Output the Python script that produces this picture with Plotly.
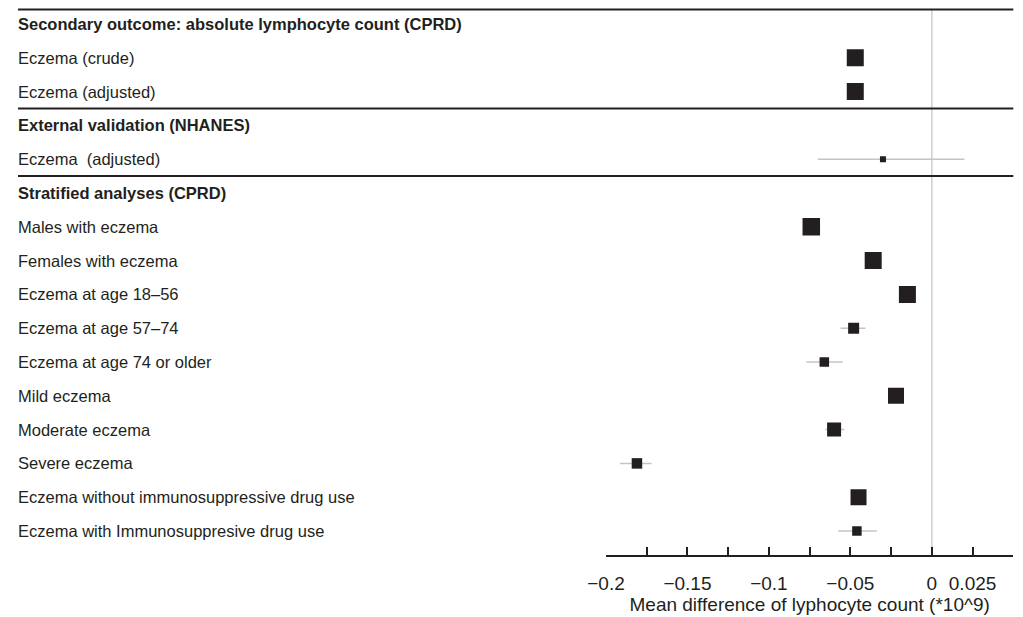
import plotly.graph_objects as go

# ---- data ----
row_labels = [
    "Secondary outcome: absolute lymphocyte count (CPRD)",
    "Eczema (crude)",
    "Eczema (adjusted)",
    "External validation (NHANES)",
    "Eczema  (adjusted)",
    "Stratified analyses (CPRD)",
    "Males with eczema",
    "Females with eczema",
    "Eczema at age 18\u201356",
    "Eczema at age 57\u201374",
    "Eczema at age 74 or older",
    "Mild eczema",
    "Moderate eczema",
    "Severe eczema",
    "Eczema without immunosuppressive drug use",
    "Eczema with Immunosuppresive drug use",
]
is_heading = [True, False, False, True, False, True] + [False] * 10

estimate = [None, -0.047, -0.047, None, -0.030, None,
            -0.074, -0.036, -0.015, -0.048, -0.066, -0.022, -0.060, -0.181, -0.045, -0.046]
lower = [None, -0.050, -0.050, None, -0.070, None,
         -0.077, -0.039, -0.018, -0.056, -0.077, -0.025, -0.0655, -0.1915, -0.048, -0.0574]
upper = [None, -0.044, -0.044, None, 0.020, None,
         -0.071, -0.033, -0.012, -0.0408, -0.0547, -0.019, -0.0537, -0.172, -0.042, -0.0338]

tick_vals = [-0.2, -0.175, -0.15, -0.125, -0.1, -0.075, -0.05, -0.025, 0, 0.025, 0.05]
tick_text = ["\u22120.2", "", "\u22120.15", "", "\u22120.1", "", "\u22120.05", "", "0", "0.025", ""]
x_title = "Mean difference of lyphocyte count (*10^9)"

# ---- style ----
marker_px = [0, 17, 17, 0, 6, 0, 17.5, 17, 17, 11, 9.5, 16, 14, 10.5, 16, 9.5]
ink = "#231f20"
font_family = "Liberation Sans, Arial, sans-serif"
fs = 16.5
fs_axis = 19

idx = [i for i, e in enumerate(estimate) if e is not None]
xs = [estimate[i] for i in idx]
ys = [i for i in idx]
sizes = [marker_px[i] for i in idx]

ci_x, ci_y = [], []
for i in idx:
    ci_x += [lower[i], upper[i], None]
    ci_y += [i, i, None]

fig = go.Figure()
fig.add_trace(go.Scatter(
    x=ci_x, y=ci_y, mode="lines", line=dict(color="#c4c4c4", width=1.5),
    showlegend=False, hoverinfo="skip",
))
fig.add_trace(go.Scatter(
    x=xs, y=ys, mode="markers", opacity=1,
    marker=dict(symbol="square", size=sizes, color=ink, opacity=1, line=dict(width=0)),
    showlegend=False, hoverinfo="skip",
))

# page has an 8px body margin, so the figure is laid out 8px up/left
OFF = 8
W, H = 1023 - OFF, 617 - OFF
x_left, x_right = (606 - OFF) / W, (1013.3 - OFF) / W
label_x = (18 - OFF - 2) / W
line_x0 = (18 - OFF) / W

annotations = []
for i, (lab, hd) in enumerate(zip(row_labels, is_heading)):
    annotations.append(dict(
        x=label_x, xref="paper", y=i, yref="y", xanchor="left", yanchor="middle",
        text=f"<b>{lab}</b>" if hd else lab, showarrow=False,
        font=dict(family=font_family, size=fs, color=ink),
    ))

shapes = []
for yv in [-0.43, 2.5, 4.5]:
    shapes.append(dict(type="line", xref="paper", x0=line_x0, x1=x_right,
                       yref="y", y0=yv, y1=yv, line=dict(color=ink, width=2), layer="above"))
shapes.append(dict(type="line", xref="x", x0=0, x1=0, yref="y", y0=-0.43, y1=15.5,
                   line=dict(color="#cfcfcf", width=1.5), layer="below"))

axis_px = 555 - OFF
fig.update_layout(
    width=W, height=H,
    margin=dict(l=0, r=0, t=0, b=0, autoexpand=False),
    paper_bgcolor="white", plot_bgcolor="white",
    font=dict(family=font_family, size=fs, color=ink),
    xaxis=dict(domain=[x_left, x_right], range=[-0.2, 0.05], showgrid=False, zeroline=False,
               automargin=False,
               showline=True, linecolor=ink, linewidth=1.5,
               ticks="inside", ticklen=8, tickwidth=1.5, tickcolor=ink,
               tickvals=tick_vals, ticktext=tick_text, ticklabelstandoff=10,
               tickfont=dict(size=fs_axis, family=font_family, color=ink),
               title=dict(text=x_title, font=dict(size=fs_axis, family=font_family, color=ink), standoff=3)),
    yaxis=dict(domain=[(H - axis_px) / H, 1], range=[15.71, (OFF - 24) / 33.8],
               visible=False, automargin=False),
    annotations=annotations,
    shapes=shapes,
)

fig.write_html("out.html")
